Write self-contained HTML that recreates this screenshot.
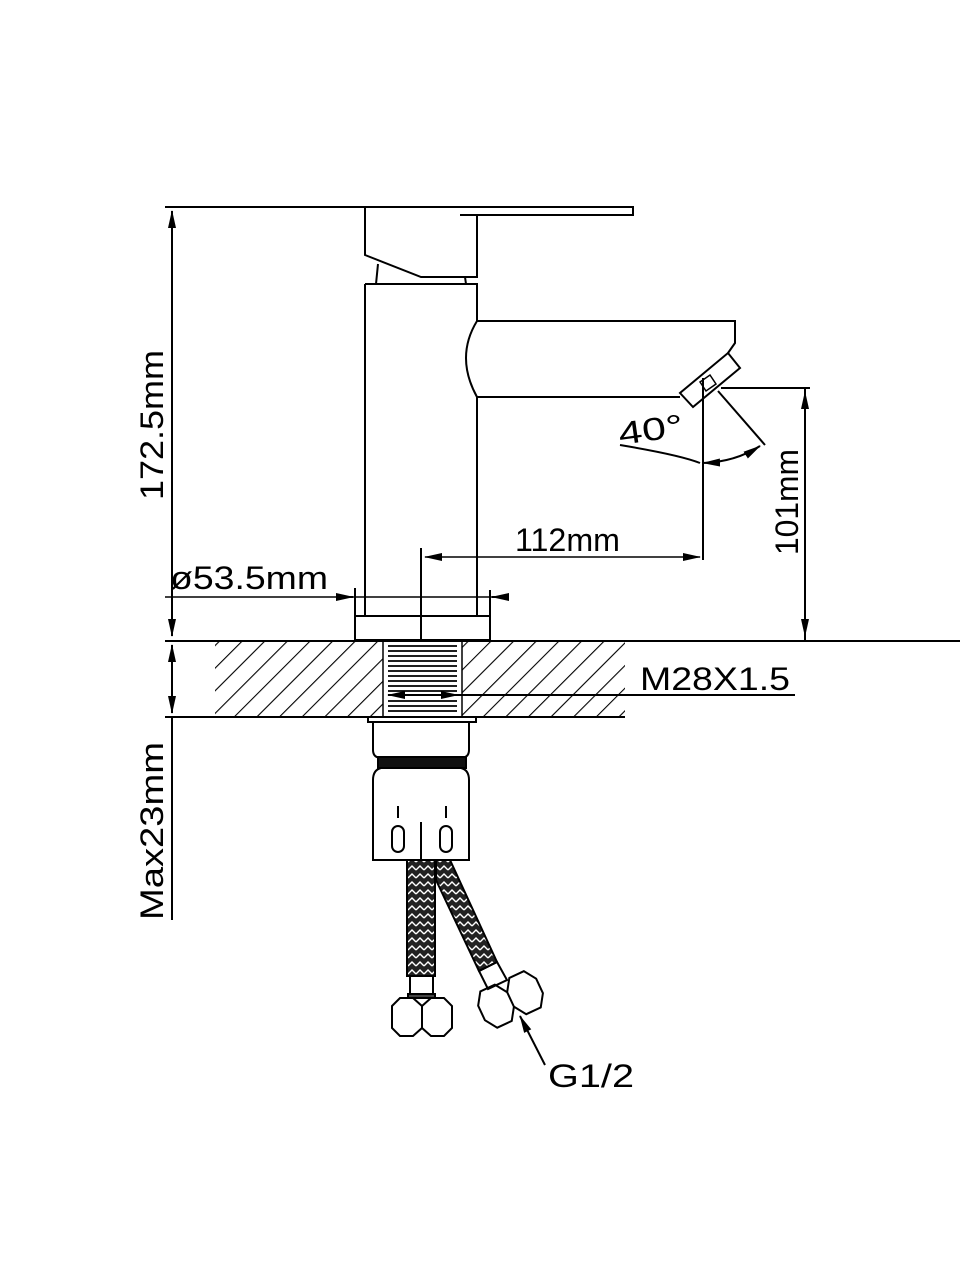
<!DOCTYPE html>
<html><head><style>html,body{margin:0;padding:0;background:#fff}svg{display:block}</style></head><body>
<svg width="960" height="1280" viewBox="0 0 960 1280" xmlns="http://www.w3.org/2000/svg">
<defs>
<pattern id="hatch" width="16" height="16" patternUnits="userSpaceOnUse" patternTransform="rotate(45)">
<line x1="0" y1="0" x2="0" y2="16" stroke="#000" stroke-width="2.2"/></pattern>
<pattern id="braid" width="8" height="8" patternUnits="userSpaceOnUse">
<rect width="8" height="8" fill="#222"/><path d="M0 6 L4 2 L8 6" stroke="#fff" stroke-width="1.4" fill="none"/></pattern>
<marker id="ar" markerWidth="18" markerHeight="10" refX="17" refY="5" orient="auto" markerUnits="userSpaceOnUse"><path d="M0 1 L18 5 L0 9z" fill="#000"/></marker>
<marker id="al" markerWidth="18" markerHeight="10" refX="1" refY="5" orient="auto" markerUnits="userSpaceOnUse"><path d="M18 1 L0 5 L18 9z" fill="#000"/></marker>
</defs>
<g stroke="#000" stroke-width="2" fill="none">
<path d="M165 207 H633 V215 H460"/>
<path d="M365 207 V255 L421 277 H477 V215"/>
<path d="M378 264 L376 284 M465 277 L466 284"/>
<path d="M365 284 H477 V321 M477 397 V616 M365 284 V616"/>
<path d="M477 321 H735 V343 L728 353 M477 321 Q455 357 477 397 H680"/>
<path d="M680 393 L693 407 L740 368 L728 353 Z"/>
<path d="M700 382 L710 375 L716 384 L706 391 Z" stroke-width="1.5"/>
<path d="M703 378 V560"/>
<path d="M718 391 L765 445"/>
<path d="M620 445 Q680 455 700 463"/>
<path d="M703 463 Q735 462 760 446" marker-start="url(#al)" marker-end="url(#ar)"/>
<path d="M721 388 H810 M805 388 V640" />
<path d="M805 392 V636" marker-start="url(#al)" marker-end="url(#ar)"/>
<path d="M425 557 H700" marker-start="url(#al)" marker-end="url(#ar)" stroke-width="1.5"/>
<path d="M421 548 V640"/>
<path d="M165 597 H492" stroke-width="1.5"/>
<path d="M355 588 V616 M490 590 V616"/>
<path d="M338 597 H353" marker-end="url(#ar)"/>
<path d="M507 597 H492" marker-end="url(#ar)"/>
<rect x="355" y="616" width="135" height="24"/>
<rect x="215" y="641" width="168" height="76" fill="url(#hatch)" stroke="none"/>
<rect x="462" y="641" width="163" height="76" fill="url(#hatch)" stroke="none"/>
<path d="M165 641 H960 M165 717 H625"/>
<rect x="383" y="641" width="79" height="76" stroke-width="1.5"/>
<g stroke-width="1.8">
<path d="M388 646 H457 M388 651 H457 M388 656 H457 M388 661 H457 M388 666 H457 M388 671 H457 M388 676 H457 M388 681 H457 M388 686 H457 M388 691 H457 M388 701 H457 M388 706 H457 M388 711 H457"/>
</g>
<path d="M388 695 H458" marker-start="url(#al)" marker-end="url(#ar)"/>
<path d="M458 695 H795"/>
<path d="M172 211 V636" marker-start="url(#al)" marker-end="url(#ar)"/>
<path d="M172 645 V713" marker-start="url(#al)" marker-end="url(#ar)"/>
<path d="M172 717 V920"/>
<rect x="368" y="717" width="108" height="5"/>
<path d="M373 722 V750 Q373 758 382 758 H460 Q469 758 469 750 V722"/>
<rect x="378" y="757" width="88" height="11" fill="#111"/>
<path d="M381 768 Q373 770 373 780 V860 H469 V780 Q469 770 461 768"/>
<path d="M421 822 V860 M398 806 V818 M446 806 V818"/>
<rect x="392" y="826" width="12" height="26" rx="6"/>
<rect x="440" y="826" width="12" height="26" rx="6"/>
<rect x="407" y="860" width="28" height="116" fill="url(#braid)"/>
<rect x="410" y="976" width="23" height="20"/>
<rect x="408" y="994" width="27" height="4" fill="#444"/>
<path d="M392 1006 L400 998 H413 L422 1006 L431 998 H444 L452 1006 V1028 L444 1036 H431 L422 1028 L413 1036 H400 L392 1028 Z M422 1006 V1028"/>
<path d="M436 860 H450 L497 962 L479 971 L436 880 Z" fill="url(#braid)"/>
<path d="M479 971 L497 962 L507 980 L488 989 Z"/>
<g transform="translate(508 994) rotate(-25)">
<path d="M-32 -2 L-24 -14 H-8 L0 -2 L8 -14 H24 L32 -2 V14 L24 26 H8 L0 14 L-8 26 H-24 L-32 14 Z M0 -2 V14"/>
</g>
<path d="M545 1065 L520 1016" marker-end="url(#ar)"/>
</g>
<g font-family="Liberation Sans, sans-serif" font-size="32" fill="#000">
<text x="515" y="551" textLength="105" lengthAdjust="spacingAndGlyphs">112mm</text>
<text x="170" y="589" textLength="158" lengthAdjust="spacingAndGlyphs">ø53.5mm</text>
<text x="640" y="690" textLength="150" lengthAdjust="spacingAndGlyphs">M28X1.5</text>
<text x="548" y="1087" textLength="86" lengthAdjust="spacingAndGlyphs">G1/2</text>
<text x="620" y="445" textLength="65" lengthAdjust="spacingAndGlyphs" transform="rotate(-8 620 445)">40°</text>
<text transform="translate(163 500) rotate(-90)" textLength="150" lengthAdjust="spacingAndGlyphs">172.5mm</text>
<text transform="translate(163 920) rotate(-90)" textLength="178" lengthAdjust="spacingAndGlyphs">Max23mm</text>
<text transform="translate(798 555) rotate(-90)" textLength="106" lengthAdjust="spacingAndGlyphs">101mm</text>
</g>
</svg>
</body></html>
